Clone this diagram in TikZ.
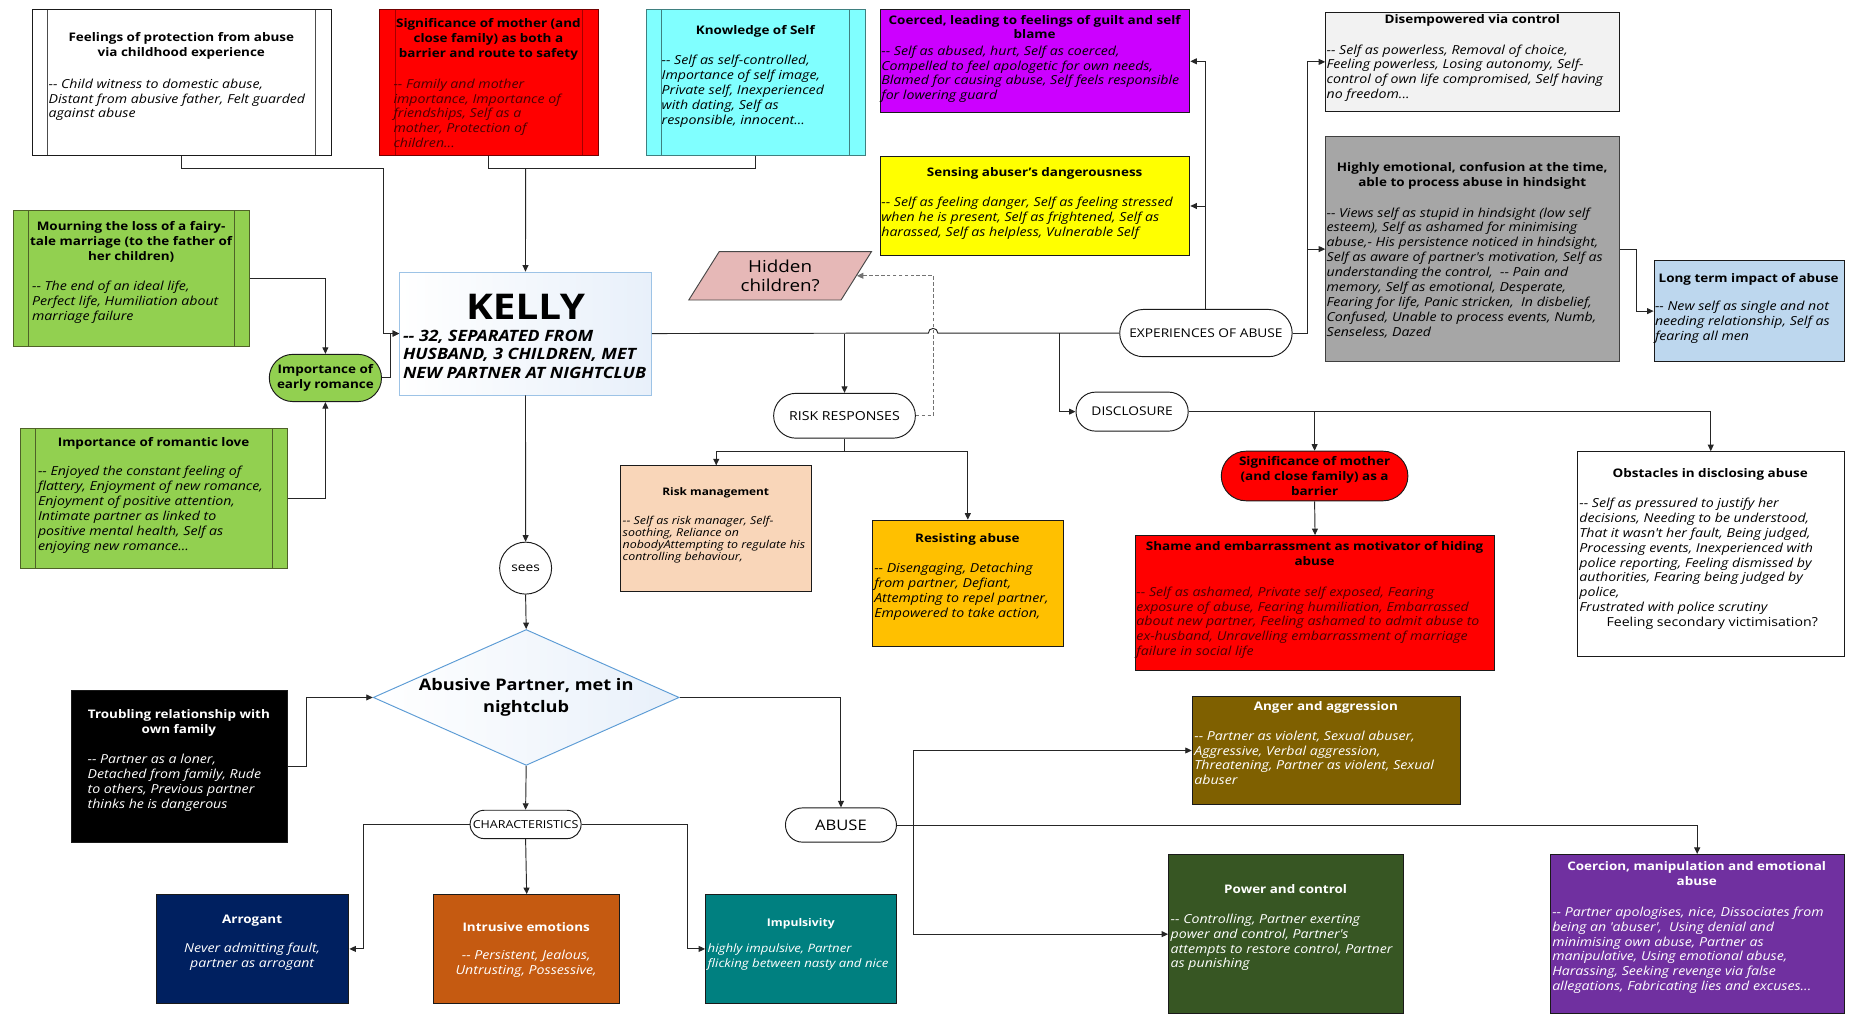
\documentclass[tikz,border=0pt]{standalone}
\usepackage{fontspec}
\setmainfont{Open Sans}[FakeStretch=1.14]
\usetikzlibrary{shapes.misc}
\usetikzlibrary{shapes.geometric}
\usetikzlibrary{arrows.meta}
\definecolor{linkColor}{HTML}{262626}
\definecolor{edgeColor}{HTML}{1A1A1A}
\definecolor{fillFeel}{HTML}{FFFFFF}
\definecolor{fillMother}{HTML}{FF0000}
\definecolor{fillKnow}{HTML}{80FFFF}
\definecolor{fillCoer}{HTML}{CC00FF}
\definecolor{fillSens}{HTML}{FFFF00}
\definecolor{fillDisemp}{HTML}{F2F2F2}
\definecolor{fillEmo}{HTML}{A6A6A6}
\definecolor{fillLong}{HTML}{BDD7EE}
\definecolor{fillGreen}{HTML}{92D050}
\definecolor{fillRiskm}{HTML}{F9D6B9}
\definecolor{fillResist}{HTML}{FFC000}
\definecolor{fillHidden}{HTML}{E6B8B7}
\definecolor{fillArro}{HTML}{002060}
\definecolor{fillIntr}{HTML}{C55A11}
\definecolor{fillImpl}{HTML}{008080}
\definecolor{fillAnger}{HTML}{7F6000}
\definecolor{fillPower}{HTML}{375623}
\definecolor{fillCoerc}{HTML}{7030A0}
\definecolor{barRed}{HTML}{A50000}
\definecolor{barCyan}{HTML}{3F8080}
\definecolor{barGreen}{HTML}{4F6228}
\definecolor{textRed}{HTML}{4A0000}
\definecolor{kellyEdge}{HTML}{9DC3E6}
\definecolor{kellyTint}{HTML}{E8F0FA}
\definecolor{diamEdge}{HTML}{5B9BD5}
\def\sizeBody{\fontsize{10.5bp}{12.6bp}\selectfont}
\def\sizeHead{\fontsize{10bp}{12.6bp}\selectfont}
\def\sizeSmall{\fontsize{9.2bp}{10.3bp}\selectfont}
\def\sizeTag{\fontsize{10.2bp}{11bp}\selectfont}

\begin{document}
\begin{tikzpicture}[x=1bp, y=-1bp,
  link/.style={draw=linkColor, line width=0.8bp, -{Triangle[length=5.5bp, width=5bp]}},
  plain/.style={draw=linkColor, line width=0.8bp},
  theme/.style={draw=edgeColor, line width=0.8bp, anchor=north west, inner sep=0pt},
  barred/.style={theme, path picture={\draw[#1, line width=0.8bp]
    ([xshift=13bp]path picture bounding box.north west) -- ([xshift=13bp]path picture bounding box.south west)
    ([xshift=-13bp]path picture bounding box.north east) -- ([xshift=-13bp]path picture bounding box.south east);}},
  head/.style={anchor=north, inner sep=0pt, yshift=-1.5bp, align=center, font=\sizeHead\bfseries},
  body/.style={anchor=north west, inner sep=0pt, yshift=-1.5bp, align=left, font=\sizeBody\itshape},
  tag/.style={rounded rectangle, draw=edgeColor, line width=0.8bp, inner sep=0pt, fill=white, align=center, font=\sizeTag}]

% page
\path[fill=white, use as bounding box] (0,0) rectangle (1568,859);

% background themes, top row
\begin{scope}
\node[barred=black!70, fill=fillFeel, minimum width=253bp, minimum height=123bp] (feel) at (27,8) {};
\node[head] (feel-head) at (153.5,26) {Feelings of protection from abuse\\via childhood experience};
\node[body] (feel-body) at (41,65) {-{}- Child witness to domestic abuse,\\Distant from abusive father, Felt guarded\\against abuse};

\node[barred=barRed, draw=barRed!70!black, fill=fillMother, minimum width=185bp, minimum height=123bp] (mother) at (321,8) {};
\node[head] (mother-head) at (413.5,14) {Significance of mother (and\\close family) as both a\\barrier and route to safety};
\node[body, text=textRed] (mother-body) at (333,65) {-{}- Family and mother\\importance, Importance of\\friendships, Self as a\\mother, Protection of\\children...};

\node[barred=barCyan, draw=barCyan, fill=fillKnow, minimum width=185bp, minimum height=123bp] (know) at (547,8) {};
\node[head] (know-head) at (639.5,20) {Knowledge of Self};
\node[body] (know-body) at (560,45) {-{}- Self as self-controlled,\\Importance of self image,\\Private self, Inexperienced\\with dating, Self as\\responsible, innocent...};
\end{scope}

% early romance themes
\begin{scope}
\node[barred=barGreen, draw=barGreen, fill=fillGreen, minimum width=200bp, minimum height=115bp] (mourn) at (11,178) {};
\node[head] (mourn-head) at (111,186) {Mourning the loss of a fairy-\\tale marriage (to the father of\\her children)};
\node[body] (mourn-body) at (27,236) {-{}- The end of an ideal life,\\Perfect life, Humiliation about\\marriage failure};

\node[barred=barGreen, draw=barGreen, fill=fillGreen, minimum width=226bp, minimum height=119bp] (love) at (17,362) {};
\node[head] (love-head) at (130,369) {Importance of romantic love};
\node[body] (love-body) at (32,393) {-{}- Enjoyed the constant feeling of\\flattery, Enjoyment of new romance,\\Enjoyment of positive attention,\\Intimate partner as linked to\\positive mental health, Self as\\enjoying new romance...};

\node[tag, fill=fillGreen, font=\sizeHead\bfseries, minimum width=95bp, minimum height=40bp] (early) at (275.5,320) {Importance of\\early romance};
\end{scope}

% Kelly
\begin{scope}
\node[theme, draw=kellyEdge, left color=white, right color=kellyTint, minimum width=213bp, minimum height=104bp] (kelly) at (338,230) {};
\node[inner sep=0pt, font=\fontsize{30bp}{30bp}\selectfont\bfseries] (kelly-name) at (445,260) {KELLY};
\node[body, font=\fontsize{13.2bp}{15.5bp}\selectfont\bfseries\itshape] (kelly-body) at (341,278) {-{}- 32, SEPARATED FROM\\HUSBAND, 3 CHILDREN, MET\\NEW PARTNER AT NIGHTCLUB};
\node[trapezium, trapezium left angle=58, trapezium right angle=122, trapezium stretches=true, draw=edgeColor!80, fill=fillHidden, line width=0.8bp, minimum width=155bp, minimum height=41bp, inner sep=0pt, align=center, font=\fontsize{14bp}{16bp}\selectfont] (hidden) at (660.5,233.5) {Hidden\\children?};
\end{scope}

% experiences of abuse
\begin{scope}
\node[theme, fill=fillCoer, minimum width=262bp, minimum height=87bp] (coer) at (745,8) {};
\node[head] (coer-head) at (876,11) {Coerced, leading to feelings of guilt and self\\blame};
\node[body] (coer-body) at (746,37) {-{}- Self as abused, hurt, Self as coerced,\\Compelled to feel apologetic for own needs,\\Blamed for causing abuse, Self feels responsible\\for lowering guard};

\node[theme, fill=fillSens, minimum width=262bp, minimum height=84bp] (sens) at (745,132) {};
\node[head] (sens-head) at (876,140) {Sensing abuser’s dangerousness};
\node[body] (sens-body) at (746,165) {-{}- Self as feeling danger, Self as feeling stressed\\when he is present, Self as frightened, Self as\\harassed, Self as helpless, Vulnerable Self};

\node[theme, fill=fillDisemp, minimum width=249bp, minimum height=84bp] (disemp) at (1122,10) {};
\node[head] (disemp-head) at (1246.5,11) {Disempowered via control};
\node[body] (disemp-body) at (1123,36) {-{}- Self as powerless, Removal of choice,\\Feeling powerless, Losing autonomy, Self-\\control of own life compromised, Self having\\no freedom...};

\node[theme, draw=black!75, fill=fillEmo, minimum width=249bp, minimum height=191bp] (emo) at (1122,115) {};
\node[head] (emo-head) at (1246.5,136) {Highly emotional, confusion at the time,\\able to process abuse in hindsight};
\node[body] (emo-body) at (1123,174) {-{}- Views self as stupid in hindsight (low self\\esteem), Self as ashamed for minimising\\abuse,- His persistence noticed in hindsight,\\Self as aware of partner\textquotesingle s motivation, Self as\\understanding the control,\ \ -{}- Pain and\\memory, Self as emotional, Desperate,\\Fearing for life, Panic stricken,\ \ In disbelief,\\Confused, Unable to process events, Numb,\\Senseless, Dazed};

\node[theme, fill=fillLong, minimum width=161bp, minimum height=86bp] (long) at (1400,220) {};
\node[head] (long-head) at (1480.5,230) {Long term impact of abuse};
\node[body] (long-body) at (1401,253) {-{}- New self as single and not\\needing relationship, Self as\\fearing all men};

\node[tag, minimum width=146bp, minimum height=40bp] (exp) at (1021,282) {EXPERIENCES OF ABUSE};
\end{scope}

% risk responses
\begin{scope}
\node[tag, minimum width=120bp, minimum height=38bp, font=\fontsize{10.5bp}{11bp}\selectfont] (risk) at (715,352) {RISK RESPONSES};

\node[theme, fill=fillRiskm, minimum width=162bp, minimum height=106bp] (riskm) at (525,394) {};
\node[head, font=\fontsize{8.8bp}{10bp}\selectfont\bfseries] (riskm-head) at (606,411) {Risk management};
\node[body, font=\sizeSmall\itshape] (riskm-body) at (527,435) {-{}- Self as risk manager, Self-\\soothing, Reliance on\\nobodyAttempting to regulate his\\controlling behaviour,};

\node[theme, fill=fillResist, minimum width=162bp, minimum height=107bp] (resist) at (738,440) {};
\node[head] (resist-head) at (819,450) {Resisting abuse};
\node[body] (resist-body) at (740,475) {-{}- Disengaging, Detaching\\from partner, Defiant,\\Attempting to repel partner,\\Empowered to take action,};
\end{scope}

% disclosure
\begin{scope}
\node[tag, minimum width=95bp, minimum height=33bp] (disc) at (958.5,348.5) {DISCLOSURE};

\node[tag, fill=fillMother, font=\sizeHead\bfseries, minimum width=158bp, minimum height=42bp] (sigm) at (1113,403) {Significance of mother\\(and close family) as a\\barrier};

\node[theme, fill=fillMother, minimum width=304bp, minimum height=114bp] (shame) at (961,453) {};
\node[head] (shame-head) at (1113,457) {Shame and embarrassment as motivator of hiding\\abuse};
\node[body, text=textRed] (shame-body) at (962,495) {-{}- Self as ashamed, Private self exposed, Fearing\\exposure of abuse, Fearing humiliation, Embarrassed\\about new partner, Feeling ashamed to admit abuse to\\ex-husband, Unravelling embarrassment of marriage\\failure in social life};

\node[theme, fill=white, minimum width=226bp, minimum height=173bp] (obst) at (1335,382) {};
\node[head] (obst-head) at (1448,395) {Obstacles in disclosing abuse};
\node[body] (obst-body) at (1337,420) {-{}- Self as pressured to justify her\\decisions, Needing to be understood,\\That it wasn\textquotesingle t her fault, Being judged,\\Processing events, Inexperienced with\\police reporting, Feeling dismissed by\\authorities, Fearing being judged by\\police,\\Frustrated with police scrutiny\\\hspace*{23bp}{\upshape Feeling secondary victimisation?}};
\end{scope}

% abusive partner
\begin{scope}
\node[circle, draw=edgeColor, line width=0.8bp, fill=white, minimum size=44bp, inner sep=0pt, font=\sizeTag] (sees) at (445,481) {sees};

\node[diamond, draw=diamEdge, line width=0.8bp, left color=white, right color=kellyTint, minimum width=259bp, minimum height=115bp, inner sep=0pt] (diam) at (445.5,590.5) {};
\node[inner sep=0pt, align=center, font=\fontsize{13.5bp}{18bp}\selectfont\bfseries] (diam-text) at (445.5,590.5) {Abusive Partner, met in\\nightclub};

\node[theme, fill=black, minimum width=183bp, minimum height=129bp] (trbl) at (60,584) {};
\node[head, text=white] (trbl-head) at (151.5,599) {Troubling relationship with\\own family};
\node[body, text=white] (trbl-body) at (74,637) {-{}- Partner as a loner,\\Detached from family, Rude\\to others, Previous partner\\thinks he is dangerous};

\node[tag, minimum width=94bp, minimum height=24bp, font=\fontsize{9.3bp}{10bp}\selectfont] (chars) at (445,698) {CHARACTERISTICS};
\node[tag, minimum width=94bp, minimum height=29bp, font=\fontsize{12.3bp}{13bp}\selectfont] (abuse) at (712,698.5) {ABUSE};
\end{scope}

% characteristics
\begin{scope}
\node[theme, fill=fillArro, minimum width=163bp, minimum height=92bp] (arro) at (132,757) {};
\node[head, text=white] (arro-head) at (213.5,773) {Arrogant};
\node[body, anchor=north, align=center, text=white] (arro-body) at (213.5,797) {Never admitting fault,\\partner as arrogant};

\node[theme, fill=fillIntr, minimum width=157bp, minimum height=92bp] (intr) at (367,757) {};
\node[head, text=white] (intr-head) at (445.5,779) {Intrusive emotions};
\node[body, anchor=north, align=center, text=white] (intr-body) at (445.5,803) {-{}- Persistent, Jealous,\\Untrusting, Possessive,};

\node[theme, fill=fillImpl, minimum width=162bp, minimum height=92bp] (impl) at (597,757) {};
\node[head, text=white, font=\fontsize{9bp}{11bp}\selectfont\bfseries] (impl-head) at (678,776) {Impulsivity};
\node[body, text=white, font=\fontsize{9.8bp}{13bp}\selectfont\itshape] (impl-body) at (599,797) {highly impulsive, Partner\\flicking between nasty and nice};
\end{scope}

% abuse
\begin{scope}
\node[theme, fill=fillAnger, minimum width=227bp, minimum height=92bp] (anger) at (1009,589) {};
\node[head, text=white] (anger-head) at (1122.5,592) {Anger and aggression};
\node[body, text=white] (anger-body) at (1011,617) {-{}- Partner as violent, Sexual abuser,\\Aggressive, Verbal aggression,\\Threatening, Partner as violent, Sexual\\abuser};

\node[theme, fill=fillPower, minimum width=199bp, minimum height=135bp] (power) at (989,723) {};
\node[head, text=white] (power-head) at (1088.5,747) {Power and control};
\node[body, text=white] (power-body) at (991,772) {-{}- Controlling, Partner exerting\\power and control, Partner\textquotesingle s\\attempts to restore control, Partner\\as punishing};

\node[theme, fill=fillCoerc, minimum width=249bp, minimum height=135bp] (coerc) at (1312,723) {};
\node[head, text=white] (coerc-head) at (1436.5,728) {Coercion, manipulation and emotional\\abuse};
\node[body, text=white] (coerc-body) at (1314,766) {-{}- Partner apologises, nice, Dissociates from\\being an \textquotesingle abuser\textquotesingle ,\ \ Using denial and\\minimising own abuse, Partner as\\manipulative, Using emotional abuse,\\Harassing, Seeking revenge via false\\allegations, Fabricating lies and excuses...};
\end{scope}

% link layer
\begin{scope}
\coordinate (jFeel) at (325,143);
\coordinate (jTop) at (445,143);
\coordinate (jDisc) at (897,282);
\coordinate (jExp) at (1107,282);
\coordinate (jRisk) at (715,382);
\coordinate (jAbuse) at (773,698.5);

\draw[link] (feel.south) |- (jFeel) |- (kelly.west);
\draw[link] (early.east) -- ++(7,0) |- (kelly.west);
\draw[link] (mourn.east) -| (early.north);
\draw[link] (love.east) -| (early.south);
\draw[plain] (mother.south) |- (jTop) -| (know.south);
\draw[link] (jTop) -- (kelly.north);

\draw[plain] (kelly.east) -- (786,282) arc[start angle=180, end angle=0, radius=4bp] -- (exp.west);
\draw[link] (kelly.east -| risk.north) -- (risk.north);
\draw[link] (jDisc) |- (disc.west);
\draw[link, draw=black!55, dash pattern=on 3bp off 2bp] (risk.east) -- ++(15,0) |- (hidden.east);

\draw[link] (exp.north) |- (coer.east);
\draw[link] (exp.north) |- (sens.east);
\draw[plain] (exp.east) -- (jExp);
\draw[link] (jExp) |- (disemp.west);
\draw[link] (jExp) |- (emo.west);
\draw[link] (emo.east) -- ++(14,0) |- (long.west);

\draw[plain] (risk.south) -- (jRisk);
\draw[link] (jRisk) -| (riskm.north);
\draw[link] (jRisk) -| (resist.north);

\draw[link] (disc.east) -| (obst.north);
\draw[link] (disc.east -| sigm.north) -- (sigm.north);
\draw[link] (sigm.south) -- (shame.north);

\draw[link] (kelly.south) -- (sees.north);
\draw[link] (sees.south) -- (diam.north);
\draw[link] (trbl.east) -- ++(16,0) |- (diam.west);
\draw[link] (diam.south) -- (chars.north);
\draw[link] (chars.west) -- ++(-90,0) |- (arro.east);
\draw[link] (chars.south) -- (intr.north);
\draw[link] (chars.east) -- ++(90,0) |- (impl.west);
\draw[link] (diam.east) -| (abuse.north);
\draw[link] (abuse.east) -| (coerc.north);
\draw[link] (jAbuse) |- (anger.west);
\draw[link] (jAbuse) |- (power.west);
\end{scope}

\end{tikzpicture}
\end{document}
